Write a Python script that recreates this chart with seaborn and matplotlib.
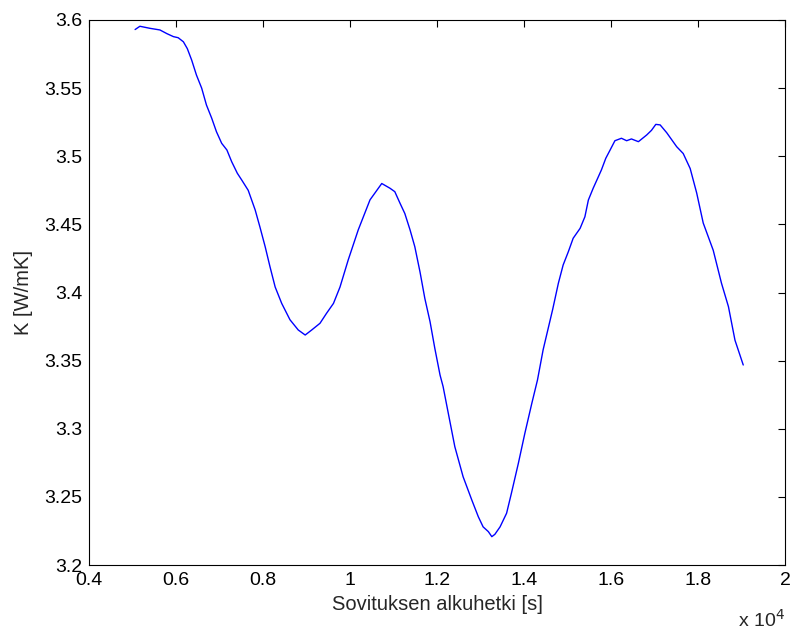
import matplotlib
matplotlib.use("Agg")
import matplotlib.pyplot as plt
import seaborn as sns
import pandas as pd
from matplotlib.ticker import FixedLocator, FuncFormatter

# Data (x in seconds, K in W/mK)
start_time = [5060, 5170, 5400, 5630, 5790, 5940, 6050, 6170, 6260, 6360,
              6470, 6590, 6700, 6820, 6930, 7050, 7170, 7280, 7410, 7510,
              7660, 7820, 7930, 8050, 8160, 8280, 8430, 8620, 8810, 8970,
              9120, 9310, 9460, 9620, 9770, 9960, 10190, 10460, 10730, 10920,
              11030, 11150, 11260, 11380, 11490, 11610, 11720, 11840, 11950, 12070,
              12140, 12260, 12410, 12600, 12800, 12950, 13060, 13180, 13260, 13330,
              13450, 13600, 13710, 13870, 14020, 14180, 14310, 14440, 14660, 14790,
              14900, 15020, 15130, 15290, 15400, 15480, 15590, 15710, 15780, 15880,
              15980, 16090, 16240, 16360, 16470, 16630, 16820, 16930, 17030, 17130,
              17280, 17510, 17660, 17820, 17970, 18120, 18350, 18540, 18700, 18850,
              19040]
k_value = [3.5930, 3.5954, 3.5939, 3.5927, 3.5900, 3.5878, 3.5870, 3.5840, 3.5790, 3.5706,
           3.5596, 3.5500, 3.5376, 3.5280, 3.5180, 3.5095, 3.5046, 3.4960, 3.4875, 3.4826,
           3.4750, 3.4606, 3.4480, 3.4336, 3.4190, 3.4040, 3.3920, 3.3800, 3.3725, 3.3688,
           3.3725, 3.3774, 3.3847, 3.3920, 3.4040, 3.4240, 3.4460, 3.4680, 3.4800, 3.4765,
           3.4740, 3.4655, 3.4580, 3.4460, 3.4336, 3.4150, 3.3957, 3.3786, 3.3590, 3.3394,
           3.3310, 3.3113, 3.2868, 3.2648, 3.2477, 3.2354, 3.2280, 3.2245, 3.2208, 3.2225,
           3.2280, 3.2380, 3.2526, 3.2746, 3.2967, 3.3187, 3.3358, 3.3580, 3.3877, 3.4068,
           3.4202, 3.4300, 3.4398, 3.4471, 3.4556, 3.4679, 3.4765, 3.4850, 3.4900, 3.4985,
           3.5046, 3.5114, 3.5132, 3.5114, 3.5127, 3.5107, 3.5156, 3.5190, 3.5234, 3.5230,
           3.5173, 3.5070, 3.5020, 3.4910, 3.4730, 3.4510, 3.4310, 3.4068, 3.3896, 3.3650,
           3.3468]
x_ticks = [4000, 6000, 8000, 10000, 12000, 14000, 16000, 18000, 20000]
y_ticks = [3.2, 3.25, 3.3, 3.35, 3.4, 3.45, 3.5, 3.55, 3.6]

sns.set_style("white")
plt.rcParams['font.family'] = ['Liberation Sans', 'DejaVu Sans']

df = pd.DataFrame({"t": start_time, "K": k_value})

fig = plt.figure(figsize=(7.96, 6.34), dpi=100)
ax = fig.add_axes([89/796, 1 - 565/634, (785 - 89)/796, (565 - 20)/634])
sns.lineplot(data=df, x="t", y="K", ax=ax, color=(0, 0, 1), linewidth=1.0,
             sort=False, estimator=None)

ax.set_xlim(4000, 20000)
ax.set_ylim(3.2, 3.6)
ax.xaxis.set_major_locator(FixedLocator(x_ticks))
ax.yaxis.set_major_locator(FixedLocator(y_ticks))
ax.xaxis.set_major_formatter(FuncFormatter(lambda v, p: f"{v/1e4:g}"))
ax.yaxis.set_major_formatter(FuncFormatter(lambda v, p: f"{v:g}"))
ax.tick_params(direction="in", top=True, right=True, length=5, width=0.8,
               labelsize=14, colors="black", pad=5)
for s in ax.spines.values():
    s.set_visible(True)
    s.set_color("black")
    s.set_linewidth(0.8)

ax.set_xlabel("Sovituksen alkuhetki [s]", fontsize=14.5, labelpad=4)
ax.set_ylabel("K [W/mK]", fontsize=14.5, labelpad=8)
fig.text(738/796, 1 - 620/634, r"x 10$^{4}$", fontsize=14, ha="left", va="center")

fig.savefig("out.png", dpi=100, facecolor="white")
